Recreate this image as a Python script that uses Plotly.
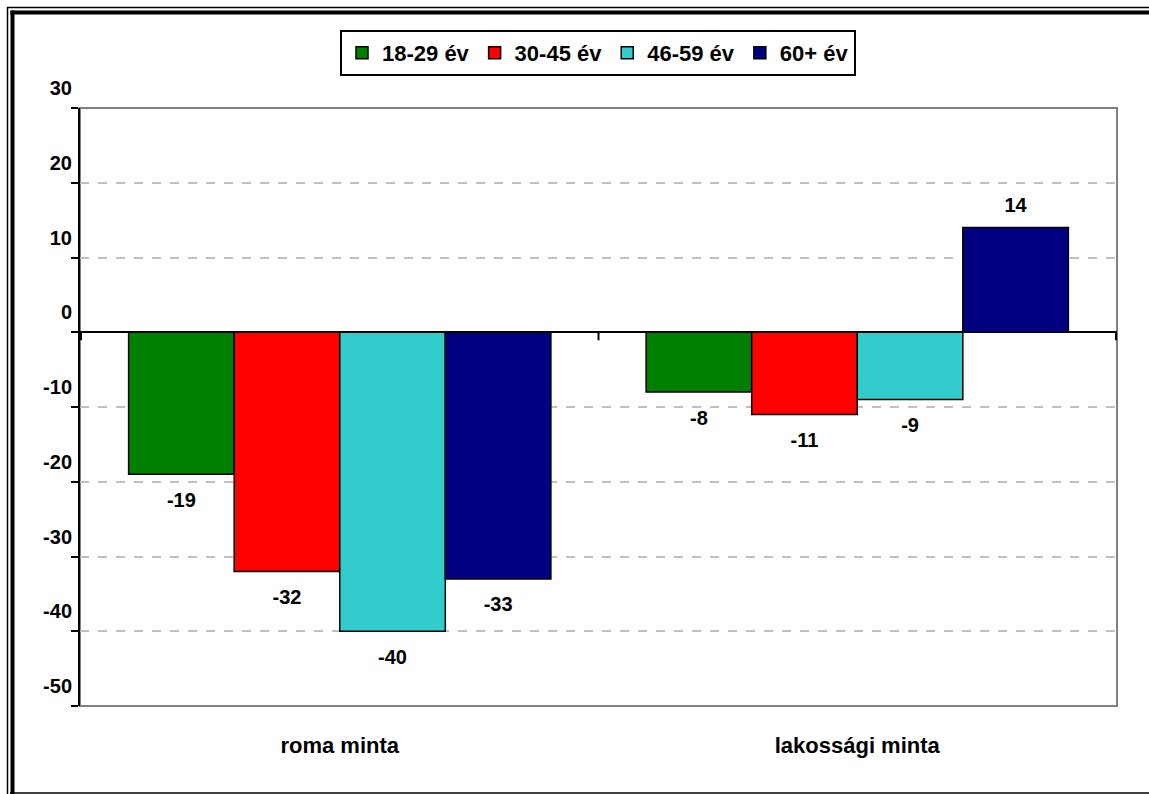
import plotly.graph_objects as go

categories = ["roma minta", "lakossági minta"]
series_names = ["18-29 év", "30-45 év", "46-59 év", "60+ év"]
values_1829 = [-19, -8]
values_3045 = [-32, -11]
values_4659 = [-40, -9]
values_60 = [-33, 14]
series_values = [values_1829, values_3045, values_4659, values_60]
colors = ["#008000", "#FF0000", "#33CCCC", "#000080"]
y_ticks = [-50, -40, -30, -20, -10, 0, 10, 20, 30]
y_tick_labels = ["-50", "-40", "-30", "-20", "-10", "0", "10", "20", "30"]

W, H = 1149, 794
L, R, T, B = 80, 32, 108, 88
PW, PH = W - L - R, H - T - B
FONT = "Arial, Liberation Sans, sans-serif"
GAP = 0.184
LABEL_FS = 20

def px_x(p):
    return (p - L) / PW

def px_y(p):
    return (H - B - p) / PH

fig = go.Figure()
for i, (name, vals, col) in enumerate(zip(series_names, series_values, colors)):
    fig.add_trace(go.Bar(
        name=name, x=categories, y=vals, offsetgroup=str(i),
        marker=dict(color=col, line=dict(color="black", width=1.5)),
        hoverinfo="skip",
    ))
# value labels (text-only scatter, grouped like the bars)
for i, (name, vals) in enumerate(zip(series_names, series_values)):
    fig.add_trace(go.Scatter(
        x=categories, y=vals, offsetgroup=str(i), mode="markers+text",
        text=[str(v) for v in vals],
        textposition=["bottom center" if v < 0 else "top center" for v in vals],
        marker=dict(size=[26.5 if v < 0 else 16 for v in vals], opacity=0),
        textfont=dict(family=FONT, size=LABEL_FS, color="black", weight="bold"),
        showlegend=False, hoverinfo="skip", cliponaxis=False,
    ))

shapes = []
shapes.append(dict(type="rect", xref="paper", yref="paper", x0=0, x1=1, y0=0, y1=1,
                   line=dict(color="#808080", width=2), layer="below"))
for i in range(len(categories) + 1):
    shapes.append(dict(type="line", xref="x", yref="y", x0=i - 0.5, x1=i - 0.5,
                       ysizemode="pixel", yanchor=0, y0=0, y1=-8,
                       line=dict(color="black", width=2)))
shapes += [
    dict(type="line", xref="paper", yref="paper", x0=px_x(7.5), x1=px_x(7.5), y0=px_y(7), y1=px_y(794),
         line=dict(color="black", width=1.5)),
    dict(type="line", xref="paper", yref="paper", x0=px_x(12.5), x1=px_x(12.5), y0=px_y(10.5), y1=px_y(794),
         line=dict(color="black", width=4)),
    dict(type="line", xref="paper", yref="paper", x0=px_x(7), x1=px_x(1149), y0=px_y(7.5), y1=px_y(7.5),
         line=dict(color="black", width=1.5)),
    dict(type="line", xref="paper", yref="paper", x0=px_x(10.5), x1=px_x(1149), y0=px_y(12.5), y1=px_y(12.5),
         line=dict(color="black", width=4)),
    dict(type="line", xref="paper", yref="paper", x0=px_x(10), x1=px_x(1149), y0=px_y(793), y1=px_y(793),
         line=dict(color="black", width=1.5)),
]

fig.update_layout(
    width=W, height=H,
    margin=dict(l=L, r=R, t=T, b=B),
    paper_bgcolor="white", plot_bgcolor="white",
    barmode="group", bargap=GAP, bargroupgap=0,
    scattermode="group", scattergap=GAP,
    font=dict(family=FONT, size=20, color="black"),
    showlegend=True,
    legend=dict(orientation="h", x=px_x(598), xanchor="center", y=px_y(30), yanchor="top",
                bordercolor="black", borderwidth=2, bgcolor="white",
                font=dict(family=FONT, size=22, color="black", weight="bold"),
                itemclick=False, itemwidth=30, tracegroupgap=0),
    shapes=shapes,
    xaxis=dict(showgrid=False, showline=False, ticks="", zeroline=False,
               ticklabelstandoff=24,
               tickfont=dict(family=FONT, size=22, color="black", weight="bold")),
    yaxis=dict(range=[-50, 30], tickvals=y_ticks, ticktext=y_tick_labels,
               showgrid=True, gridcolor="#C0C0C0",
               griddash="dash", gridwidth=1.5, zeroline=True, zerolinecolor="black",
               zerolinewidth=2, showline=True, linecolor="black", linewidth=2,
               ticks="outside", ticklen=7, tickwidth=2, tickcolor="black",
               ticklabelshift=-20, ticklabelstandoff=-5,
               tickfont=dict(family=FONT, size=20, color="black", weight="bold")),
)

fig.write_html("out.html", config={"displayModeBar": False},
               post_script="document.body.style.margin='0';")
